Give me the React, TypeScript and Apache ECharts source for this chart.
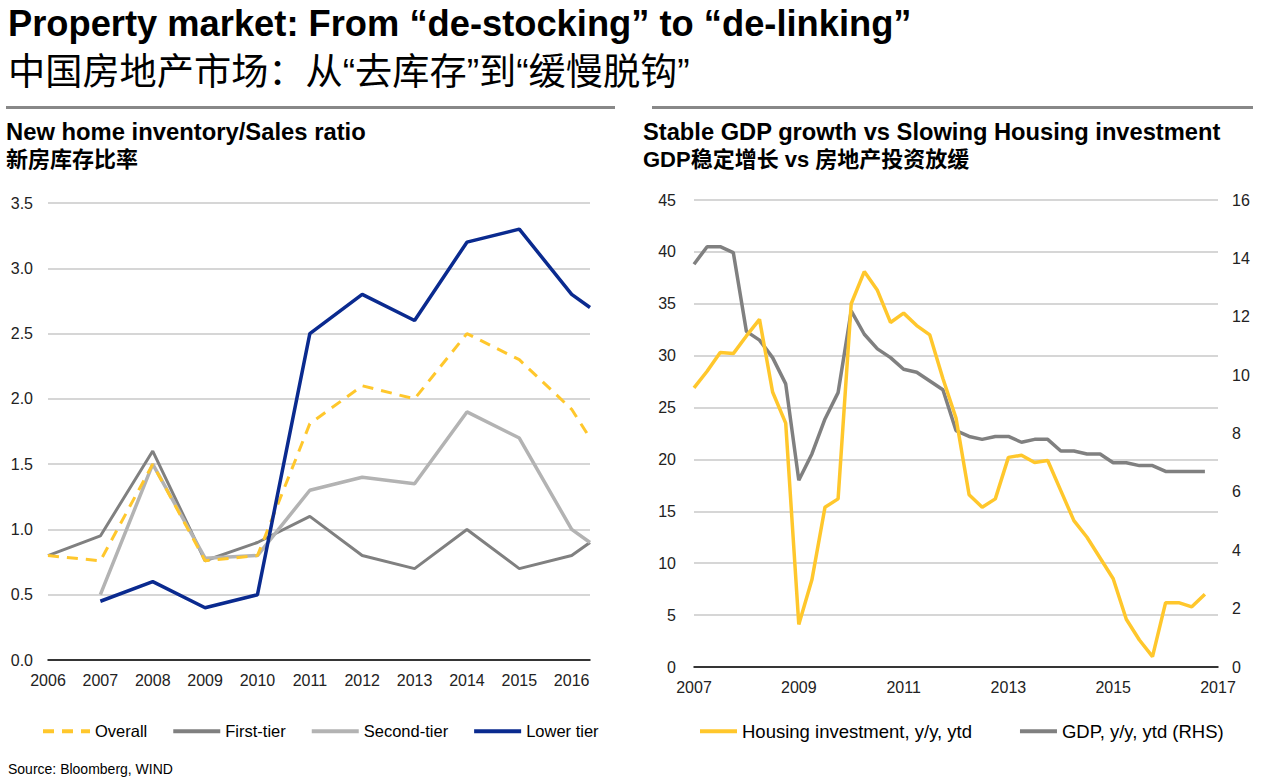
import React, { useEffect, useRef } from "react";
import * as echarts from "echarts";

// ---------- Left chart: New home inventory / Sales ratio ----------
const yearPos = [2006, 2007, 2008, 2009, 2010, 2011, 2012, 2013, 2014, 2015, 2016, 2016.35];
const overall = [0.8, 0.76, 1.5, 0.76, 0.8, 1.81, 2.1, 2.0, 2.5, 2.3, 1.92, 1.7];
const firstTier = [0.8, 0.95, 1.6, 0.76, 0.9, 1.1, 0.8, 0.7, 1.0, 0.7, 0.8, 0.9];
const secondTier = [null, 0.5, 1.5, 0.78, 0.8, 1.3, 1.4, 1.35, 1.9, 1.7, 1.0, 0.9];
const lowerTier = [null, 0.45, 0.6, 0.4, 0.5, 2.5, 2.8, 2.6, 3.2, 3.3, 2.8, 2.7];

// ---------- Right chart: quarterly, 2007Q1 .. 2016Q4 ----------
const housing = [
  26.9, 28.5, 30.3, 30.2, 31.9, 33.5, 26.5, 23.5,
  4.1, 8.4, 15.4, 16.2, 35.0, 38.1, 36.3, 33.2,
  34.1, 32.9, 32.0, 27.8, 24.0, 16.6, 15.4, 16.2,
  20.2, 20.4, 19.7, 19.9, 17.0, 14.1, 12.5, 10.5,
  8.5, 4.6, 2.6, 1.0, 6.2, 6.2, 5.8, 7.0,
];
const gdp = [
  13.8, 14.4, 14.4, 14.2, 11.5, 11.2, 10.6, 9.7,
  6.4, 7.3, 8.5, 9.4, 12.2, 11.4, 10.9, 10.6,
  10.2, 10.1, 9.8, 9.5, 8.1, 7.9, 7.8, 7.9,
  7.9, 7.7, 7.8, 7.8, 7.4, 7.4, 7.3, 7.3,
  7.0, 7.0, 6.9, 6.9, 6.7, 6.7, 6.7, 6.7,
];
const quarterPos = housing.map((_, i) => 2007 + i * 0.25);

const FONT = "'Liberation Sans', Arial, 'Noto Sans CJK SC', sans-serif";
const YELLOW = "#ffc72c";
const DARKGRAY = "#808080";
const LIGHTGRAY = "#b3b3b3";
const NAVY = "#0a2a8f";
const GRID = "#c8c8c8";

const pair = (xs: number[], ys: (number | null)[]) =>
  ys.map((v, i) => [xs[i], v]).filter((p) => p[1] !== null);

export default function App() {
  const ref = useRef<HTMLDivElement>(null);
  useEffect(() => {
    if (!ref.current) return;
    const chart = echarts.init(ref.current, undefined, { renderer: "svg" });
    const axisLabel = { color: "#222", fontSize: 16, fontFamily: FONT };
    chart.setOption({
      animation: false,
      textStyle: { fontFamily: FONT },
      graphic: [
        { type: "text", left: 8, top: 5, style: { text: "Property market: From “de-stocking” to “de-linking”", font: `bold 36.3px ${FONT}`, fill: "#000" } },
        { type: "text", left: 8, top: 53, style: { text: "中国房地产市场：从“去库存”到“缓慢脱钩”", font: `normal 37.2px ${FONT}`, fill: "#000" } },
        { type: "rect", shape: { x: 6, y: 106, width: 609, height: 3 }, style: { fill: "#888" } },
        { type: "rect", shape: { x: 652, y: 106, width: 601, height: 3 }, style: { fill: "#888" } },
        { type: "text", left: 6, top: 120, style: { text: "New home inventory/Sales ratio", font: `bold 23.8px ${FONT}`, fill: "#000" } },
        { type: "text", left: 6, top: 148, style: { text: "新房库存比率", font: `bold 22px ${FONT}`, fill: "#000" } },
        { type: "text", left: 643, top: 120, style: { text: "Stable GDP growth vs Slowing Housing investment", font: `bold 23.7px ${FONT}`, fill: "#000" } },
        { type: "text", left: 643, top: 148, style: { text: "GDP稳定增长 vs 房地产投资放缓", font: `bold 22px ${FONT}`, fill: "#000" } },
        { type: "text", left: 8, top: 762, style: { text: "Source: Bloomberg, WIND", font: `normal 14px ${FONT}`, fill: "#000" } },
      ],
      legend: [
        {
          data: ["Overall", "First-tier", "Second-tier", "Lower tier"],
          left: 36, top: 718, itemWidth: 47, itemHeight: 10, itemGap: 24,
          itemStyle: { opacity: 0 },
          lineStyle: { width: 4 },
          textStyle: { fontSize: 16.5, color: "#000", fontFamily: FONT },
        },
        {
          data: ["Housing investment, y/y, ytd", "GDP, y/y, ytd (RHS)"],
          left: 693, top: 717, itemWidth: 37, itemHeight: 10, itemGap: 46,
          itemStyle: { opacity: 0 },
          lineStyle: { width: 4 },
          textStyle: { fontSize: 18.5, color: "#000", fontFamily: FONT },
        },
      ],
      grid: [
        { left: 48, right: 677, top: 203, bottom: 123 },
        { left: 694, right: 49, top: 200, bottom: 116 },
      ],
      xAxis: [
        {
          type: "value", gridIndex: 0, min: 2006, max: 2016.35, interval: 1,
          axisLine: { lineStyle: { color: "#000", width: 1.5 } },
          axisTick: { show: false }, splitLine: { show: false },
          axisLabel: { ...axisLabel, margin: 12, showMaxLabel: false, formatter: (v: number) => (Number.isInteger(v) ? String(v) : "") },
        },
        {
          type: "value", gridIndex: 1, min: 2007, max: 2017, interval: 2,
          axisLine: { lineStyle: { color: "#000", width: 1.5 } },
          axisTick: { show: false }, splitLine: { show: false },
          axisLabel: { ...axisLabel, margin: 12, formatter: (v: number) => String(v) },
        },
      ],
      yAxis: [
        {
          type: "value", gridIndex: 0, min: 0, max: 3.5, interval: 0.5,
          axisLine: { show: false }, axisTick: { show: false },
          splitLine: { lineStyle: { color: GRID, width: 1.5 } },
          axisLabel: { ...axisLabel, margin: 15, formatter: (v: number) => v.toFixed(1) },
        },
        {
          type: "value", gridIndex: 1, min: 0, max: 45, interval: 5,
          axisLine: { show: false }, axisTick: { show: false },
          splitLine: { lineStyle: { color: GRID, width: 1.5 } },
          axisLabel: { ...axisLabel, margin: 18 },
        },
        {
          type: "value", gridIndex: 1, position: "right", min: 0, max: 16, interval: 2,
          axisLine: { show: false }, axisTick: { show: false }, splitLine: { show: false },
          axisLabel: { ...axisLabel, margin: 14 },
        },
      ],
      series: [
        { name: "Overall", type: "line", xAxisIndex: 0, yAxisIndex: 0, symbol: "none", data: pair(yearPos, overall), lineStyle: { color: YELLOW, width: 3, type: [11, 8] }, itemStyle: { color: YELLOW }, z: 3 },
        { name: "First-tier", type: "line", xAxisIndex: 0, yAxisIndex: 0, symbol: "none", data: pair(yearPos, firstTier), lineStyle: { color: DARKGRAY, width: 3 }, itemStyle: { color: DARKGRAY }, z: 2 },
        { name: "Second-tier", type: "line", xAxisIndex: 0, yAxisIndex: 0, symbol: "none", data: pair(yearPos, secondTier), lineStyle: { color: LIGHTGRAY, width: 3.5 }, itemStyle: { color: LIGHTGRAY }, z: 2 },
        { name: "Lower tier", type: "line", xAxisIndex: 0, yAxisIndex: 0, symbol: "none", data: pair(yearPos, lowerTier), lineStyle: { color: NAVY, width: 3.5 }, itemStyle: { color: NAVY }, z: 4 },
        { name: "Housing investment, y/y, ytd", type: "line", xAxisIndex: 1, yAxisIndex: 1, symbol: "none", data: pair(quarterPos, housing), lineStyle: { color: YELLOW, width: 3.5 }, itemStyle: { color: YELLOW }, z: 3 },
        { name: "GDP, y/y, ytd (RHS)", type: "line", xAxisIndex: 1, yAxisIndex: 2, symbol: "none", data: pair(quarterPos, gdp), lineStyle: { color: DARKGRAY, width: 3.5 }, itemStyle: { color: DARKGRAY }, z: 2 },
      ],
    });
    return () => chart.dispose();
  }, []);
  return <div ref={ref} style={{ position: "absolute", left: 0, top: 0, width: 1267, height: 783 }} />;
}
